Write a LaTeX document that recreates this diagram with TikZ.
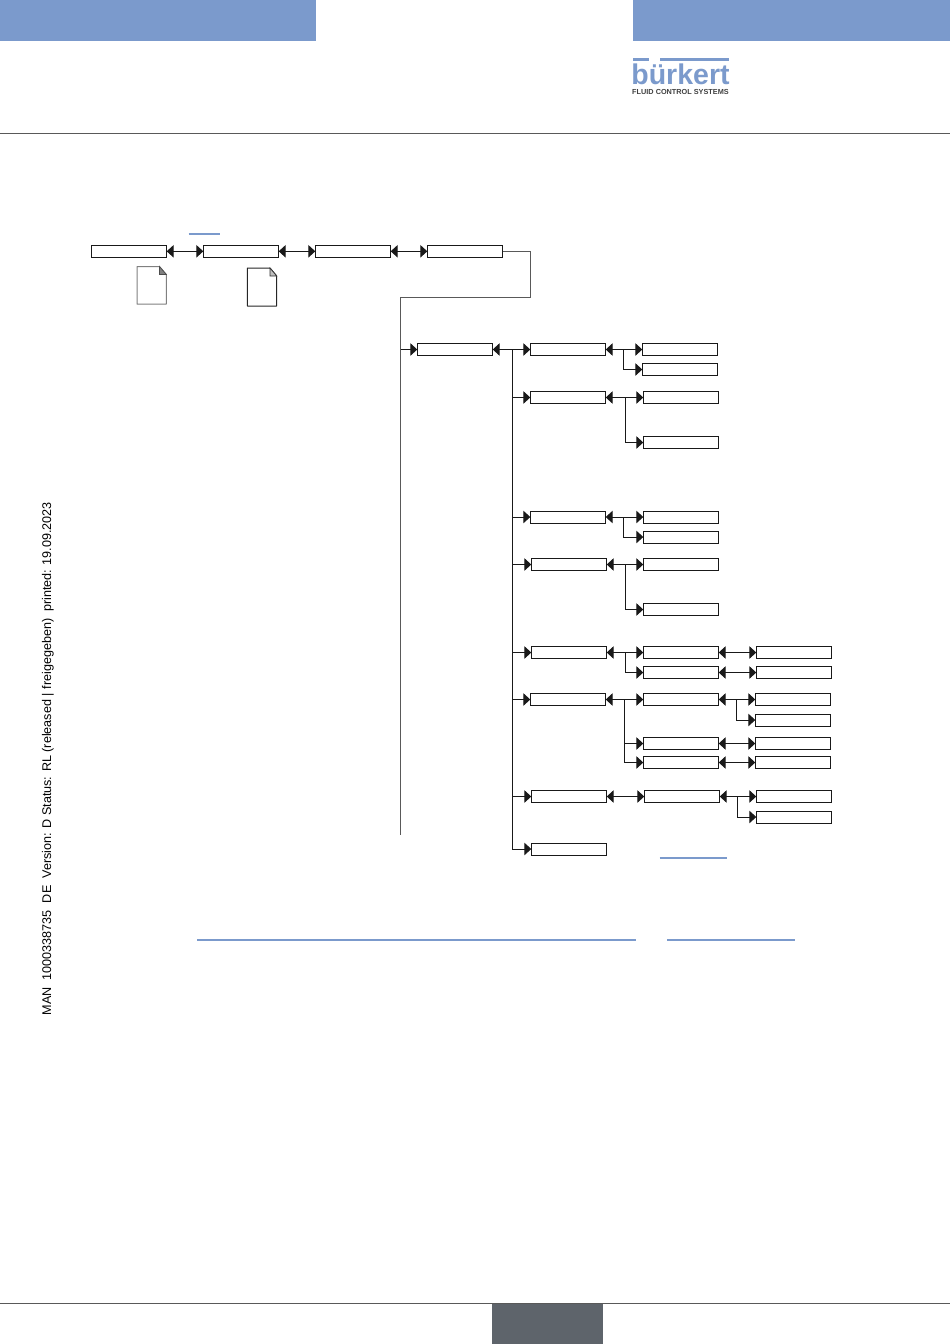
\documentclass[tikz,border=0pt]{standalone}
\usepackage{fontspec}
\setmainfont{Liberation Sans}
\usetikzlibrary{arrows.meta}
\definecolor{bkblue}{HTML}{7B9ACC}
\definecolor{bkgray}{HTML}{5E646B}
\tikzset{
	menubox/.style={draw=black!90,line width=1pt,fill=white,minimum width=75.4pt,minimum height=12pt,inner sep=0pt,outer sep=0pt},
	doc/.style={draw=black!85,line width=1pt,fill=white,line join=round},
	link/.style={draw=bkblue,line width=2pt},
	rule/.style={draw=black!65,line width=0.8pt}
}
\begin{document}
\begin{tikzpicture}[line cap=butt,line join=miter,>={Triangle[length=7pt,width=12.5pt]},x=1pt,y=-1pt,line width=1pt,color=black!90]
			\useasboundingbox (0,0) rectangle (950,1344);
			\fill[bkblue] (0,0) rectangle (316,40.5);
			\fill[bkblue] (633,0) rectangle (950,40.5);
			\draw[rule] (0,133.5)--(950,133.5);
			\draw[rule] (0,1303.5)--(950,1303.5);
			\fill[bkgray] (492,1303.5) rectangle (603,1344);
			\draw[link] (188.7,233.5)--(219.5,233.5);
			\draw[link] (659.7,858)--(726.7,858);
			\draw[link] (197,940)--(636,940);
			\draw[link] (667,940)--(795,940);
			\fill[bkblue] (632.5,58) rectangle (649,61);
			\fill[bkblue] (660,58) rectangle (728.5,61);
			\node[text=bkblue,font=\bfseries\fontsize{28.5}{28.5}\selectfont,inner sep=0pt] (logo) at (680.5,74.5) {bürkert};
			\node[text=black!75,font=\bfseries\fontsize{7.3}{7.3}\selectfont,inner sep=0pt] (claim) at (680.5,91.5) {FLUID CONTROL SYSTEMS};
			\node[rotate=90,text=black,font=\fontsize{12.6}{12.6}\selectfont,inner sep=0pt] (stamp) at (48,758.5) {MAN\ \ 1000338735\ \ DE\ \ Version: D Status: RL (released | freigegeben)\ \ printed: 19.09.2023};
			\draw[doc,draw=black!50] (137,266.5)--(159.5,266.5)--(166.3,274.5)--(166.3,304)--(137,304)--cycle;
			\filldraw[draw=black!70,fill=black!50,line width=0.7pt] (159.5,266.5)--(166.3,274.5)--(159.5,274.5)--cycle;
			\draw[doc] (247.3,268)--(270,268)--(276.7,276)--(276.7,306)--(247.3,306)--cycle;
			\filldraw[draw=black!80,fill=black!25,line width=0.7pt] (270,268)--(276.7,276)--(270,276)--cycle;

			\node[menubox] (a) at (129,251.3) {};
			\node[menubox] (b) at (241,251.3) {};
			\node[menubox] (c) at (353,251.3) {};
			\node[menubox] (d) at (465,251.3) {};
			\draw[<->] (a)--(b);
			\draw[<->] (b)--(c);
			\draw[<->] (c)--(d);

			\node[menubox] (e) at (455,349.5) {};
			\coordinate (riser) at (530.5,251.3);
			\coordinate (over) at (530.5,297.5);
			\coordinate (under) at (400.5,297.5);
			\coordinate (down) at (400.5,349.5);
			\coordinate (tail) at (400.5,835);
			\draw[draw=black!65] (d)--(riser)--(over)--(under)--(tail);
			\draw[->] (down)--(e);

			\node[menubox] (s1) at (568,349.5) {};
			\node[menubox] (s2) at (568,397.5) {};
			\node[menubox] (s3) at (568,517) {};
			\node[menubox] (s4) at (569,564.5) {};
			\node[menubox] (s5) at (569,652.5) {};
			\node[menubox] (s6) at (568,699.5) {};
			\node[menubox] (s7) at (569,796.5) {};
			\node[menubox] (s8) at (569,849) {};
			\coordinate (trunk) at (512.3,349.5);
			\draw[<->] (e)--(s1);
			\draw[->] (trunk)|-(s2);
			\draw[->] (trunk)|-(s3);
			\draw[->] (trunk)|-(s4);
			\draw[->] (trunk)|-(s5);
			\draw[->] (trunk)|-(s6);
			\draw[->] (trunk)|-(s7);
			\draw[->] (trunk)|-(s8);

			\node[menubox] (t11) at (680,349.5) {};
			\node[menubox] (t12) at (680,369.5) {};
			\coordinate (j1) at (623.3,349.5);
			\draw[<->] (s1)--(t11);
			\draw[->] (j1)|-(t12);

			\node[menubox] (t21) at (681,397.5) {};
			\node[menubox] (t22) at (681,442.5) {};
			\coordinate (j2) at (625.3,397.5);
			\draw[<->] (s2)--(t21);
			\draw[->] (j2)|-(t22);

			\node[menubox] (t31) at (681,517) {};
			\node[menubox] (t32) at (681,537) {};
			\coordinate (j3) at (623.3,517);
			\draw[<->] (s3)--(t31);
			\draw[->] (j3)|-(t32);

			\node[menubox] (t41) at (681,564.5) {};
			\node[menubox] (t42) at (681,609.5) {};
			\coordinate (j4) at (625.7,564.5);
			\draw[<->] (s4)--(t41);
			\draw[->] (j4)|-(t42);

			\node[menubox] (t51) at (681,652.5) {};
			\node[menubox] (t52) at (681,672.5) {};
			\coordinate (j5) at (625.7,652.5);
			\draw[<->] (s5)--(t51);
			\draw[->] (j5)|-(t52);
			\node[menubox] (u51) at (794,652.5) {};
			\node[menubox] (u52) at (794,672.5) {};
			\draw[<->] (t51)--(u51);
			\draw[<->] (t52)--(u52);

			\node[menubox] (t61) at (681,699.5) {};
			\node[menubox] (t62) at (681,743.5) {};
			\node[menubox] (t63) at (681,762.5) {};
			\coordinate (j6) at (624.3,699.5);
			\draw[<->] (s6)--(t61);
			\draw[->] (j6)|-(t62);
			\draw[->] (j6)|-(t63);
			\node[menubox] (u61) at (793,699.5) {};
			\node[menubox] (u62) at (793,720) {};
			\node[menubox] (u63) at (793,743.5) {};
			\node[menubox] (u64) at (793,762.5) {};
			\coordinate (k6) at (736.3,699.5);
			\draw[<->] (t61)--(u61);
			\draw[->] (k6)|-(u62);
			\draw[<->] (t62)--(u63);
			\draw[<->] (t63)--(u64);

			\node[menubox] (t71) at (682,796.5) {};
			\node[menubox] (u71) at (794,796.5) {};
			\node[menubox] (u72) at (794,817) {};
			\coordinate (k7) at (737.3,796.5);
			\draw[<->] (s7)--(t71);
			\draw[<->] (t71)--(u71);
			\draw[->] (k7)|-(u72);
\end{tikzpicture}
\end{document}
